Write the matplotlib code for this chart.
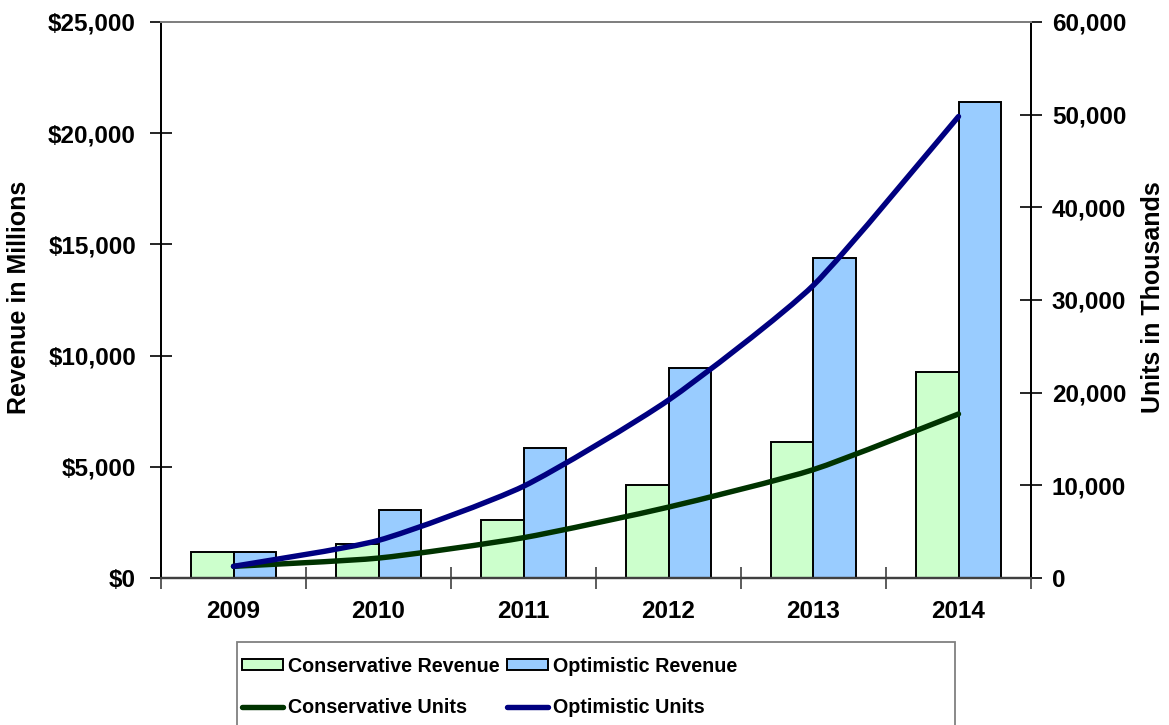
import matplotlib
matplotlib.use("Agg")
import matplotlib.pyplot as plt
from matplotlib.path import Path
from matplotlib.patches import PathPatch, Rectangle, Patch
from matplotlib.lines import Line2D
from matplotlib.ticker import FuncFormatter, MultipleLocator
import numpy as np

plt.rcParams['font.family'] = ['Liberation Sans', 'DejaVu Sans']
plt.rcParams['font.weight'] = 'bold'

years = ['2009', '2010', '2011', '2012', '2013', '2014']
conservative_revenue = [1170, 1530, 2610, 4200, 6130, 9260]
optimistic_revenue = [1170, 3060, 5830, 9430, 14370, 21400]
conservative_units = [1260, 2150, 4350, 7650, 11700, 17700]
optimistic_units = [1260, 4060, 9900, 19200, 31600, 49800]

CONS_FILL = '#CCFFCC'
OPT_FILL = '#99CCFF'
CONS_LINE = '#003300'
OPT_LINE = '#000080'

W, H = 1169, 725
fig = plt.figure(figsize=(W / 100, H / 100), dpi=100)
ax_left, ax_right, ax_top, ax_bot = 161, 1031, 22, 578
ax = fig.add_axes([ax_left / W, 1 - ax_bot / H, (ax_right - ax_left) / W, (ax_bot - ax_top) / H])
ax2 = ax.twinx()

x = np.arange(len(years))
bw = 0.29
ax.bar(x - bw / 2, conservative_revenue, bw, color=CONS_FILL, edgecolor='black', linewidth=1.4, zorder=2)
ax.bar(x + bw / 2, optimistic_revenue, bw, color=OPT_FILL, edgecolor='black', linewidth=1.4, zorder=2)

ax.set_xlim(-0.5, len(years) - 0.5)
ax.set_ylim(0, 25000)
ax2.set_ylim(0, 60000)
ax.yaxis.set_major_locator(MultipleLocator(5000))
ax2.yaxis.set_major_locator(MultipleLocator(10000))
ax.yaxis.set_major_formatter(FuncFormatter(lambda v, p: '${:,.0f}'.format(v)))
ax2.yaxis.set_major_formatter(FuncFormatter(lambda v, p: '{:,.0f}'.format(v)))

# category boundaries carry the x ticks, labels sit at category centres
ax.set_xticks(np.arange(-0.5, len(years)), minor=False)
ax.set_xticklabels([''] * (len(years) + 1))
ax.set_xticks(x, minor=True)
ax.set_xticklabels(years, minor=True)
ax.tick_params(axis='x', which='minor', length=0, pad=16, labelsize=17.5)
ax.tick_params(axis='x', which='major', direction='inout', length=16, width=1.2, color='#404040')
ax.tick_params(axis='y', direction='inout', length=16, width=1.2, pad=10, labelsize=17.5)
ax2.tick_params(axis='y', direction='inout', length=16, width=1.2, pad=7, labelsize=17.5)

for a in (ax, ax2):
    a.spines['top'].set_color('#808080')
    a.spines['top'].set_linewidth(1.4)
    a.spines['bottom'].set_color('#404040')
    a.spines['bottom'].set_linewidth(1.6)
    a.spines['left'].set_color('black')
    a.spines['left'].set_linewidth(1.3)
    a.spines['right'].set_color('black')
    a.spines['right'].set_linewidth(1.3)


def smooth_path(xs, ys, sx, sy, k=1 / 10):
    """Cubic Bezier path through the points, with gentle tangents computed in pixel space."""
    px = np.asarray(xs, float) * sx
    py = np.asarray(ys, float) * sy
    n = len(px)
    verts = [(px[0], py[0])]
    codes = [Path.MOVETO]
    for i in range(n - 1):
        i0 = max(i - 1, 0)
        i3 = min(i + 2, n - 1)
        c1 = (px[i] + (px[i + 1] - px[i0]) * k, py[i] + (py[i + 1] - py[i0]) * k)
        c2 = (px[i + 1] - (px[i3] - px[i]) * k, py[i + 1] - (py[i3] - py[i]) * k)
        verts += [c1, c2, (px[i + 1], py[i + 1])]
        codes += [Path.CURVE4] * 3
    verts = [(vx / sx, vy / sy) for vx, vy in verts]
    return Path(verts, codes)


sx = (ax_right - ax_left) / len(years)
sy = (ax_bot - ax_top) / 60000
LINE_W = 3.9
for ys, col in ((conservative_units, CONS_LINE), (optimistic_units, OPT_LINE)):
    ax2.add_patch(PathPatch(smooth_path(x, ys, sx, sy), facecolor='none', edgecolor=col,
                            linewidth=LINE_W, capstyle='round', joinstyle='round', zorder=3))

# axis titles
fig.text(19 / W, 1 - 297 / H, 'Revenue in Millions', rotation=90, ha='center', va='center', fontsize=18)
fig.text(1153 / W, 1 - 297 / H, 'Units in Thousands', rotation=90, ha='center', va='center', fontsize=18)

# legend box, running past the bottom edge of the figure
box_top = 1 - 642 / H
fig.patches.append(Rectangle((237 / W, -0.05), (955 - 237) / W, box_top + 0.05, transform=fig.transFigure,
                             facecolor='white', edgecolor='#808080', linewidth=1.3))
handles = [Patch(facecolor=CONS_FILL, edgecolor='black', linewidth=1.4),
           Patch(facecolor=OPT_FILL, edgecolor='black', linewidth=1.4),
           Line2D([], [], color=CONS_LINE, linewidth=LINE_W, solid_capstyle='round'),
           Line2D([], [], color=OPT_LINE, linewidth=LINE_W, solid_capstyle='round')]
labels = ['Conservative Revenue', 'Optimistic Revenue', 'Conservative Units', 'Optimistic Units']
order = [0, 2, 1, 3]
leg = fig.legend([handles[i] for i in order], [labels[i] for i in order], ncol=2, frameon=False,
                 loc='upper left', bbox_to_anchor=(224 / W, 1 - 639 / H),
                 prop={'weight': 'bold', 'size': 14.2},
                 handlelength=2.1, handleheight=0.5, handletextpad=0.25, columnspacing=0.35,
                 labelspacing=1.15, borderpad=0.4)

fig.savefig('out.png', dpi=100)
